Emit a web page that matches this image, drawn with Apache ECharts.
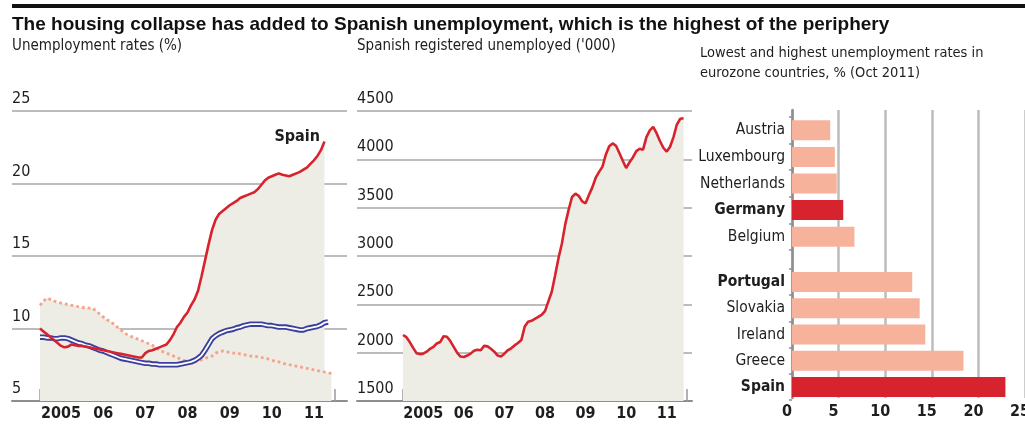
<!DOCTYPE html>
<html>
<head>
<meta charset="utf-8">
<script src="https://cdn.jsdelivr.net/npm/echarts@6/dist/echarts.min.js"></script>
<style>
  html, body { margin: 0; padding: 0; background: #fff; }
  #chart { width: 1025px; height: 426px; }
</style>
</head>
<body>
<div id="chart"></div>
<script>
// Monthly positions, Jan 2005 .. Jan 2012 (each value sits at the start of its month)
const months = [];
for (let y = 2005; y <= 2011; y++) {
  for (let m = 1; m <= 12; m++) months.push(y + '-' + String(m).padStart(2, '0'));
}
months.push('2012-01');

const yearLabels = ['2005', '06', '07', '08', '09', '10', '11'];

// Unemployment rates, %, monthly from Jan 2005
const spainRate = [
  10.0, 9.8, 9.6, 9.4, 9.2, 9.0, 8.8, 8.7, 8.75, 8.9, 8.85, 8.8,
  8.8, 8.75, 8.7, 8.65, 8.6, 8.55, 8.5, 8.45, 8.4, 8.35, 8.3, 8.25,
  8.2, 8.15, 8.1, 8.05, 8.0, 8.0, 8.3, 8.45, 8.5, 8.6, 8.7, 8.8,
  8.9, 9.2, 9.6, 10.1, 10.4, 10.8, 11.1, 11.6, 12.0, 12.6, 13.6, 14.7,
  15.8, 16.8, 17.5, 17.9, 18.1, 18.3, 18.5, 18.65, 18.8, 19.0, 19.1, 19.2,
  19.3, 19.4, 19.6, 19.9, 20.2, 20.4, 20.5, 20.6, 20.7, 20.6, 20.55, 20.5,
  20.6, 20.7, 20.8, 20.95, 21.1, 21.35, 21.6, 21.9, 22.3, 22.9
];
const eurozoneRate = [
  9.4, 9.4, 9.35, 9.35, 9.3, 9.3, 9.35, 9.35, 9.3, 9.2, 9.1, 9.0,
  8.95, 8.85, 8.8, 8.7, 8.6, 8.5, 8.45, 8.35, 8.25, 8.15, 8.05, 7.95,
  7.9, 7.85, 7.8, 7.75, 7.7, 7.65, 7.6, 7.6, 7.55, 7.55, 7.5, 7.5,
  7.5, 7.5, 7.5, 7.5, 7.55, 7.6, 7.65, 7.7, 7.8, 7.95, 8.15, 8.5,
  8.9, 9.3, 9.5, 9.65, 9.75, 9.85, 9.9, 9.95, 10.05, 10.1, 10.2, 10.25,
  10.3, 10.3, 10.3, 10.3, 10.25, 10.2, 10.2, 10.15, 10.1, 10.1, 10.1, 10.05,
  10.0, 9.95, 9.9, 9.9, 10.0, 10.05, 10.1, 10.15, 10.25, 10.4, 10.45
];
const germanyRate = [
  11.6, 11.9, 12.1, 12.0, 11.9, 11.8, 11.75, 11.7, 11.65, 11.6, 11.55, 11.5,
  11.45, 11.45, 11.4, 11.4, 11.2, 11.0, 10.8, 10.6, 10.5, 10.3, 10.1, 9.9,
  9.7, 9.55, 9.45, 9.35, 9.25, 9.15, 9.05, 8.95, 8.85, 8.65, 8.5, 8.4,
  8.3, 8.2, 8.1, 8.0, 7.9, 7.8, 7.75, 7.7, 7.7, 7.75, 7.85, 7.95,
  8.0, 8.1, 8.3, 8.4, 8.45, 8.4, 8.35, 8.3, 8.3, 8.25, 8.2, 8.15,
  8.1, 8.1, 8.05, 8.0, 7.95, 7.9, 7.8, 7.75, 7.7, 7.6, 7.55, 7.5,
  7.45, 7.4, 7.35, 7.3, 7.25, 7.2, 7.15, 7.1, 7.05, 7.0, 6.95, 6.9
];

// Spanish registered unemployed, thousands, monthly from Jan 2005
const registered = [
  2183, 2160, 2110, 2050, 1995, 1985, 1990, 2010, 2040, 2060, 2095, 2110,
  2170, 2165, 2120, 2060, 2000, 1960, 1955, 1970, 1990, 2020, 2030, 2025,
  2070, 2065, 2040, 2010, 1970, 1960, 1990, 2025, 2045, 2075, 2100, 2130,
  2270, 2320, 2330, 2350, 2370, 2390, 2430, 2530, 2630, 2800, 2980, 3130,
  3330, 3480, 3610, 3645, 3620, 3565, 3545, 3630, 3710, 3810, 3870, 3925,
  4050, 4135, 4165, 4140, 4065, 3985, 3910, 3970, 4020, 4085, 4110, 4100,
  4230, 4300, 4335, 4270, 4190, 4120, 4080, 4130, 4230, 4360, 4420, 4425
];

// Lowest and highest eurozone unemployment rates, Oct 2011, %
const lowestNames = ['Austria', 'Luxembourg', 'Netherlands', 'Germany', 'Belgium'];
const lowestValues = [4.1, 4.6, 4.8, 5.5, 6.7];
const highestNames = ['Portugal', 'Slovakia', 'Ireland', 'Greece', 'Spain'];
const highestValues = [12.9, 13.7, 14.3, 18.4, 22.9];

const rateTicks = { min: 5, max: 25, interval: 5 };
const registeredTicks = { min: 1500, max: 4500, interval: 500 };
const barTicks = { min: 0, max: 25, interval: 5 };

const boldNames = ['Germany', 'Portugal', 'Spain'];
const redNames = ['Germany', 'Spain'];

const RED = '#d7232d';
const SALMON_BAR = '#f7b29c';
const SALMON_DOT = '#f6a38c';
const BLUE = '#3a3f9c';
const BEIGE = '#edece5';
const GRID = '#bcbcbc';
const AXIS = '#8e8e8e';
const INK = '#1e1e1e';
const SANS = "'Liberation Sans', Arial, sans-serif";
const COND = "'DejaVu Sans Condensed', 'DejaVu Sans', sans-serif";

const chart = echarts.init(document.getElementById('chart'), null, { renderer: 'canvas' });

function frameY(gridIndex, ticks) {
  return {
    gridIndex, type: 'value', min: ticks.min, max: ticks.max, interval: ticks.interval,
    axisLine: { show: false }, axisTick: { show: false },
    splitLine: { show: true, lineStyle: { color: GRID, width: 2 } },
    axisLabel: {
      inside: true, margin: 0, verticalAlign: 'bottom', padding: [0, 0, 4, 0],
      fontFamily: COND, fontSize: 16, color: INK,
      formatter: v => String(v)
    }
  };
}
function frameX(gridIndex) {
  return {
    gridIndex, type: 'value', min: 0, max: 1,
    axisLine: { show: true, onZero: false, lineStyle: { color: AXIS, width: 2 } },
    axisTick: { show: false }, axisLabel: { show: false }, splitLine: { show: false }
  };
}
function yearAxis(gridIndex) {
  return {
    gridIndex, type: 'category', data: yearLabels, boundaryGap: true, position: 'bottom',
    axisLine: { show: false },
    axisTick: { show: true, inside: true, length: 12, interval: 0, lineStyle: { color: '#9a9a9a', width: 1.5 } },
    axisLabel: { interval: 0, margin: 5, fontFamily: COND, fontSize: 16, fontWeight: 'bold', color: INK }
  };
}
function monthAxis(gridIndex) {
  return { gridIndex, type: 'category', data: months, boundaryGap: false, show: false };
}
function hiddenValue(gridIndex, ticks) {
  return { gridIndex, type: 'value', min: ticks.min, max: ticks.max, show: false };
}
function nameAxis(gridIndex, names) {
  return {
    gridIndex, type: 'category', data: names, inverse: true,
    axisLine: { show: false },
    axisTick: { show: true, length: 3, lineStyle: { color: AXIS, width: 1.5 } },
    axisLabel: {
      margin: 7, fontFamily: COND, fontSize: 15.5, color: INK,
      formatter: v => boldNames.includes(v) ? '{b|' + v + '}' : v,
      rich: { b: { fontFamily: COND, fontSize: 15.5, fontWeight: 'bold', color: INK } }
    }
  };
}
function barData(names, values) {
  return values.map((v, i) => ({
    value: v,
    itemStyle: { color: redNames.includes(names[i]) ? RED : SALMON_BAR }
  }));
}
function lineSeries(data, x, y, style, extra) {
  return Object.assign({
    type: 'line', data, xAxisIndex: x, yAxisIndex: y,
    showSymbol: false, symbol: 'none', silent: true, animation: false,
    lineStyle: style
  }, extra || {});
}
function gridAt(left, top, width, height) {
  return { left, top, width, height, containLabel: false, outerBoundsMode: 'none' };
}

const option = {
  backgroundColor: '#ffffff',
  animation: false,
  grid: [
    gridAt(12, 111, 335, 290),   // 0 rates frame
    gridAt(40, 111, 295, 290),   // 1 rates plot
    gridAt(357, 111, 335, 290),  // 2 registered frame
    gridAt(403, 111, 284, 290),  // 3 registered plot
    gridAt(792, 110, 233, 288),  // 4 bar frame
    gridAt(792, 117, 233, 133),  // 5 lowest
    gridAt(792, 269, 233, 131)   // 6 highest
  ],
  xAxis: [
    frameX(0),
    monthAxis(1),
    yearAxis(1),
    frameX(2),
    monthAxis(3),
    yearAxis(3),
    {
      gridIndex: 4, type: 'value', min: barTicks.min, max: barTicks.max, interval: barTicks.interval,
      axisLine: { show: false }, axisTick: { show: false },
      splitLine: { show: true, lineStyle: { color: GRID, width: 2.5 } },
      axisLabel: { margin: 6, padding: [0, 10, 0, 0], fontFamily: COND, fontSize: 16, fontWeight: 'bold', color: INK }
    },
    hiddenValue(5, barTicks),
    hiddenValue(6, barTicks)
  ],
  yAxis: [
    frameY(0, rateTicks),
    hiddenValue(1, rateTicks),
    frameY(2, registeredTicks),
    hiddenValue(3, registeredTicks),
    {
      gridIndex: 4, type: 'value', min: 0, max: 1,
      axisLine: { show: true, lineStyle: { color: AXIS, width: 2.5 } },
      axisTick: { show: false }, axisLabel: { show: false }, splitLine: { show: false }
    },
    nameAxis(5, lowestNames),
    nameAxis(6, highestNames)
  ],
  series: [
    // shaded area under the upper envelope of the rate lines
    lineSeries(germanyRate, 1, 1, { width: 0, opacity: 0 }, { areaStyle: { color: BEIGE, opacity: 1 }, z: 1 }),
    lineSeries(spainRate, 1, 1, { width: 0, opacity: 0 }, { areaStyle: { color: BEIGE, opacity: 1 }, z: 1 }),
    lineSeries(germanyRate, 1, 1, { color: SALMON_DOT, width: 2.8, type: [2.8, 3], cap: 'butt' }, { z: 3 }),
    lineSeries(eurozoneRate, 1, 1, { color: BLUE, width: 5.5 }, { z: 4 }),
    lineSeries(eurozoneRate, 1, 1, { color: '#ffffff', width: 1.8 }, { z: 5 }),
    lineSeries(spainRate, 1, 1, { color: RED, width: 2.6 }, { z: 6 }),

    lineSeries(registered, 4, 3, { color: RED, width: 2.6 }, { areaStyle: { color: BEIGE, opacity: 1 }, z: 3 }),

    {
      type: 'bar', xAxisIndex: 7, yAxisIndex: 5, barWidth: 20, silent: true,
      data: barData(lowestNames, lowestValues), z: 3
    },
    {
      type: 'bar', xAxisIndex: 8, yAxisIndex: 6, barWidth: 20, silent: true,
      data: barData(highestNames, highestValues), z: 3
    }
  ],
  graphic: [
    { type: 'rect', shape: { x: 12, y: 4, width: 1013, height: 4 }, style: { fill: '#111' } },
    {
      type: 'text', x: 12, y: 25,
      style: { text: 'The housing collapse has added to Spanish unemployment, which is the highest of the periphery',
        fontFamily: SANS, fontSize: 19, fontWeight: 'bold', fill: '#111', verticalAlign: 'middle' }
    },
    { type: 'text', x: 12, y: 46, style: { text: 'Unemployment rates (%)', fontFamily: COND, fontSize: 15, fill: INK, verticalAlign: 'middle' } },
    { type: 'text', x: 357, y: 46, style: { text: "Spanish registered unemployed ('000)", fontFamily: COND, fontSize: 15, fill: INK, verticalAlign: 'middle' } },
    { type: 'text', x: 700, y: 53, style: { text: 'Lowest and highest unemployment rates in', fontFamily: COND, fontSize: 14.5, fill: INK, verticalAlign: 'middle' } },
    { type: 'text', x: 700, y: 73, style: { text: 'eurozone countries, % (Oct 2011)', fontFamily: COND, fontSize: 14.5, fill: INK, verticalAlign: 'middle' } },
    { type: 'text', x: 320, y: 137, style: { text: 'Spain', fontFamily: COND, fontSize: 16, fontWeight: 'bold', fill: INK, align: 'right', verticalAlign: 'middle' } },
    { type: 'text', x: 318, y: 310, style: { text: 'Eurozone', fontFamily: COND, fontSize: 16, fill: INK, align: 'right', verticalAlign: 'middle' } },
    { type: 'text', x: 294, y: 377, style: { text: 'Germany', fontFamily: COND, fontSize: 16, fill: INK, align: 'right', verticalAlign: 'middle' } }
  ]
};

chart.setOption(option);
</script>
</body>
</html>
